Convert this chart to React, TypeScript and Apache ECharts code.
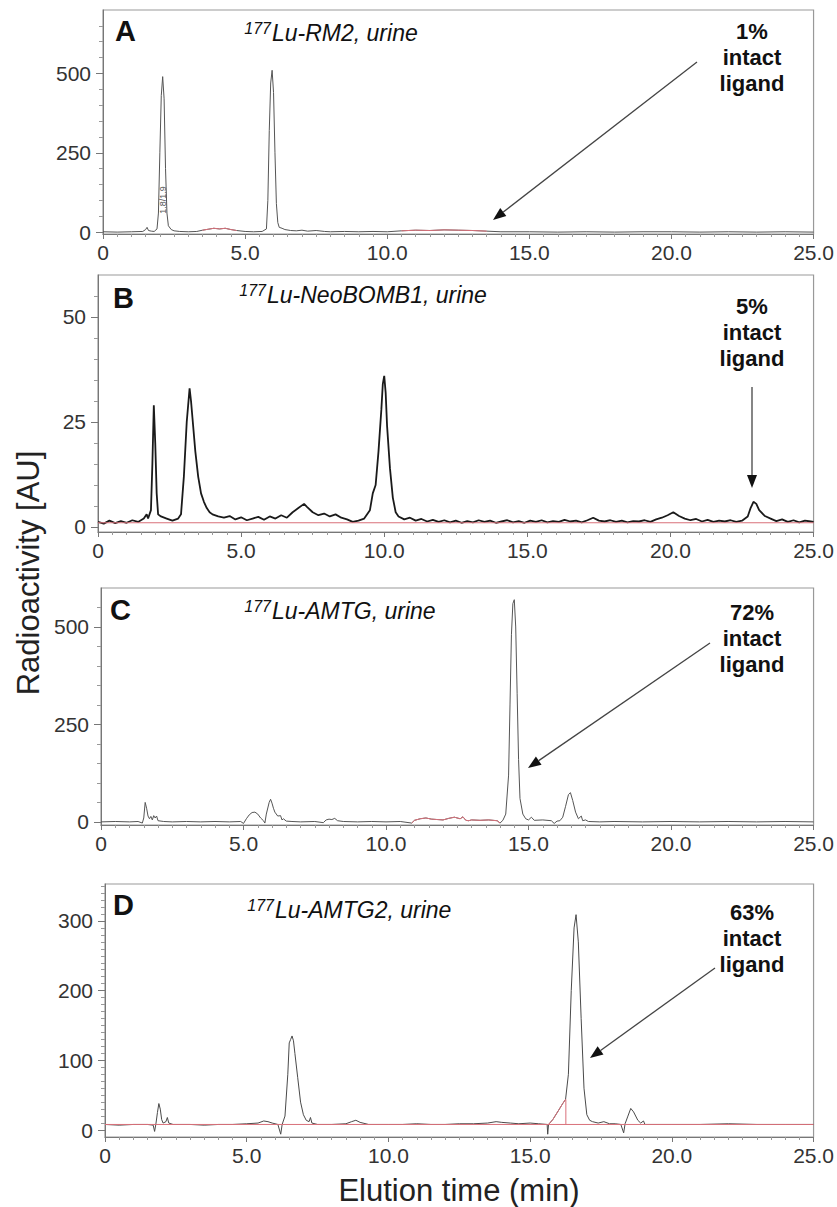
import React, { useEffect, useRef } from 'react';
import * as echarts from 'echarts';

// ---------- DATA ----------
const xMin = 0;
const xMax = 25;
const xInterval = 5;

const panelLetters = ['A', 'B', 'C', 'D'];
const panelTitles = ['Lu-RM2, urine', 'Lu-NeoBOMB1, urine', 'Lu-AMTG, urine', 'Lu-AMTG2, urine'];
const isotope = '177';
const intactPercent = ['1%', '5%', '72%', '63%'];

const aYLabels = [0, 250, 500];
const aYMinor = [50, 100, 150, 200, 300, 350, 400, 450, 550, 600, 650];
const bYLabels = [0, 25, 50];
const bYMinor = [5, 10, 15, 20, 30, 35, 40, 45, 55];
const cYLabels = [0, 250, 500];
const cYMinor = [50, 100, 150, 200, 300, 350, 400, 450, 550];
const dYLabels = [0, 100, 200, 300];
const dYMinor = [10, 20, 30, 40, 50, 60, 70, 80, 90, 110, 120, 130, 140, 150, 160, 170, 180, 190, 210, 220, 230, 240, 250, 260, 270, 280, 290, 310, 320, 330, 340, 350];

const aTrace: [number, number][] = [
  [0, 1], [0.5, 0], [1.0, 1], [1.4, 2], [1.5, 8], [1.55, 15], [1.6, 5], [1.7, 3], [1.8, 2], [1.9, 10],
  [1.95, 60], [2.0, 250], [2.05, 430], [2.1, 490], [2.15, 420], [2.2, 200], [2.25, 60], [2.3, 20], [2.4, 8],
  [2.5, 4], [2.7, 2], [3.0, 1], [3.3, 2], [3.5, 6], [3.7, 9], [3.9, 12], [4.1, 10], [4.3, 12], [4.5, 8],
  [4.7, 5], [5.0, 2], [5.3, 1], [5.6, 2], [5.75, 10], [5.8, 100], [5.85, 320], [5.9, 470], [5.95, 510],
  [6.0, 440], [6.05, 250], [6.1, 90], [6.15, 30], [6.2, 15], [6.3, 12], [6.4, 8], [6.6, 5], [6.8, 4],
  [7.0, 6], [7.2, 3], [7.5, 5], [7.8, 2], [8.0, 1], [8.5, 2], [9.0, 1], [9.5, 2], [10.0, 1], [10.5, 4],
  [11.0, 6], [11.5, 5], [12.0, 7], [12.5, 6], [13.0, 5], [13.5, 3], [14.0, 1], [15, 1], [16, 0], [17, 1],
  [18, 0], [19, 1], [20, 1], [21, 0], [22, 1], [23, 0], [24, 1], [25, 0],
];

const bTrace: [number, number][] = [
  [0, 1.2], [0.2, 0.8], [0.4, 1.5], [0.6, 0.9], [0.8, 1.4], [1.0, 1.0], [1.2, 1.6], [1.4, 1.2], [1.6, 2.0],
  [1.7, 3.0], [1.75, 2.0], [1.85, 4], [1.9, 15], [1.95, 29], [2.0, 20], [2.05, 8], [2.1, 3], [2.2, 2.5],
  [2.4, 2.0], [2.6, 1.5], [2.8, 2.0], [2.9, 3], [3.0, 12], [3.1, 25], [3.2, 33], [3.25, 30], [3.3, 26],
  [3.4, 18], [3.5, 12], [3.6, 8], [3.7, 6], [3.8, 4.5], [3.9, 3.5], [4.0, 3], [4.2, 2.5], [4.4, 2.2],
  [4.6, 2.6], [4.8, 1.8], [5.0, 2.3], [5.2, 1.6], [5.4, 2.0], [5.6, 2.4], [5.8, 1.7], [6.0, 2.5], [6.2, 2.0],
  [6.4, 2.8], [6.6, 2.2], [6.8, 3.5], [7.0, 4.5], [7.2, 5.5], [7.3, 4.8], [7.5, 3.5], [7.7, 2.8], [7.9, 3.2],
  [8.1, 2.5], [8.3, 3.0], [8.5, 2.2], [8.7, 1.8], [8.9, 1.2], [9.1, 1.5], [9.3, 2.0], [9.5, 4], [9.6, 8],
  [9.7, 10], [9.8, 18], [9.9, 28], [9.95, 34], [10.0, 36], [10.05, 32], [10.1, 24], [10.2, 14], [10.3, 7],
  [10.4, 3.5], [10.5, 2.5], [10.7, 1.8], [10.9, 2.2], [11.1, 1.5], [11.3, 1.9], [11.5, 1.3], [11.7, 1.7],
  [11.9, 1.2], [12.1, 1.6], [12.3, 1.1], [12.5, 1.5], [12.7, 1.0], [12.9, 1.4], [13.1, 1.1], [13.3, 1.6],
  [13.5, 1.2], [13.7, 1.5], [13.9, 1.0], [14.1, 1.3], [14.3, 1.6], [14.5, 1.1], [14.7, 1.4], [14.9, 1.0],
  [15.1, 1.5], [15.3, 1.2], [15.5, 1.6], [15.7, 1.1], [15.9, 1.4], [16.1, 1.2], [16.3, 1.7], [16.5, 1.3],
  [16.7, 1.5], [16.9, 1.1], [17.1, 1.6], [17.3, 2.2], [17.5, 1.5], [17.7, 1.3], [17.9, 1.6], [18.1, 1.2],
  [18.3, 1.5], [18.5, 1.1], [18.7, 1.4], [18.9, 1.3], [19.1, 1.6], [19.3, 1.2], [19.5, 1.8], [19.7, 2.2],
  [19.9, 2.8], [20.1, 3.5], [20.3, 2.6], [20.5, 2.0], [20.7, 1.6], [20.9, 1.9], [21.1, 1.3], [21.3, 1.7],
  [21.5, 1.2], [21.7, 1.5], [21.9, 1.3], [22.1, 1.6], [22.3, 1.2], [22.5, 1.5], [22.7, 2.5], [22.8, 4.5],
  [22.9, 6], [23.0, 5.5], [23.1, 4], [23.3, 2.6], [23.5, 2.0], [23.7, 1.4], [23.9, 1.8], [24.1, 1.2],
  [24.3, 1.6], [24.5, 1.1], [24.7, 1.5], [24.9, 1.3], [25, 1.2],
];

const cTrace: [number, number][] = [
  [0, 0], [0.5, 1], [1.0, 0], [1.3, 1], [1.45, -3], [1.5, 10], [1.55, 50], [1.6, 35], [1.65, 15], [1.7, 8],
  [1.75, 14], [1.8, 5], [1.85, 16], [1.9, 10], [1.95, 15], [2.0, 3], [2.2, 1], [2.5, 0], [3, 1], [3.5, 0],
  [4, 1], [4.5, 0], [4.9, 1], [5.0, -4], [5.1, 8], [5.2, 18], [5.3, 24], [5.4, 25], [5.5, 20], [5.6, 10],
  [5.7, 3], [5.75, -3], [5.8, 20], [5.9, 50], [5.95, 58], [6.0, 48], [6.05, 35], [6.1, 25], [6.2, 15],
  [6.3, 16], [6.35, 5], [6.4, 8], [6.5, 2], [6.7, 1], [7.0, 0], [7.5, 1], [7.8, -2], [7.9, 5], [8.0, 7],
  [8.1, 6], [8.2, 9], [8.3, 3], [8.5, 1], [9, 0], [9.5, 1], [10, 0], [10.5, 1], [10.9, -3], [11.0, 4],
  [11.2, 8], [11.4, 10], [11.6, 7], [11.8, 6], [12.0, 5], [12.2, 9], [12.4, 12], [12.6, 8], [12.7, 13],
  [12.8, 4], [12.9, 3], [13.0, 5], [13.3, 4], [13.6, 5], [13.9, 3], [14.0, -3], [14.1, 4], [14.2, 20],
  [14.3, 120], [14.35, 300], [14.4, 480], [14.45, 560], [14.5, 570], [14.55, 500], [14.6, 330], [14.65, 160],
  [14.7, 60], [14.8, 20], [14.9, 8], [15.0, 5], [15.1, 12], [15.2, 4], [15.5, 5], [15.8, 3], [15.9, -4],
  [16.0, 2], [16.1, 3], [16.2, 12], [16.3, 40], [16.4, 70], [16.47, 75], [16.55, 55], [16.65, 25], [16.75, 8],
  [16.85, 15], [16.9, 3], [17.0, 5], [17.1, 1], [17.5, 0], [18, 1], [19, 0], [20, 1], [21, 0], [22, 1],
  [23, 0], [24, 1], [25, 0],
];

const dTrace: [number, number][] = [
  [0, 8], [0.5, 7], [1.0, 8], [1.5, 8], [1.7, 7], [1.75, -2], [1.8, 10], [1.85, 25], [1.9, 38], [1.95, 30],
  [2.0, 15], [2.05, 10], [2.15, 12], [2.2, 18], [2.25, 10], [2.4, 8], [3, 8], [3.5, 7], [4, 8], [4.5, 8],
  [5.0, 9], [5.4, 10], [5.6, 13], [5.75, 12], [5.9, 10], [6.1, 8], [6.2, -6], [6.25, 8], [6.35, 20],
  [6.45, 80], [6.5, 125], [6.55, 130], [6.6, 135], [6.65, 128], [6.7, 110], [6.8, 75], [6.9, 40], [7.0, 22],
  [7.1, 14], [7.2, 12], [7.25, 18], [7.3, 10], [7.5, 8], [8, 8], [8.5, 9], [8.7, 12], [8.85, 14], [9.0, 11],
  [9.3, 8], [10, 8], [10.5, 8], [11, 9], [11.5, 8], [12, 8], [12.5, 9], [13, 9], [13.5, 10], [13.8, 12],
  [14.0, 11], [14.3, 10], [14.6, 9], [15, 10], [15.3, 9], [15.6, 8], [15.62, -6], [15.65, 8], [15.8, 15],
  [16.0, 28], [16.15, 38], [16.25, 44], [16.35, 80], [16.45, 200], [16.55, 290], [16.62, 309], [16.7, 270],
  [16.8, 160], [16.9, 60], [17.0, 22], [17.1, 14], [17.2, 12], [17.4, 10], [17.6, 12], [17.8, 9], [18.0, 9],
  [18.2, 8], [18.3, -4], [18.35, 9], [18.45, 20], [18.55, 31], [18.65, 26], [18.8, 14], [18.9, 10],
  [19.0, 13], [19.05, 8], [19.3, 8], [20, 8], [21, 8], [22, 9], [23, 8], [24, 8], [25, 8],
];

// integration baselines (red) per panel
const aRedRanges: [number, number][] = [[3.5, 4.7], [10.5, 13.5]];
const bBaseline: [number, number][] = [[0, 1], [25, 1]];
const cRedRanges: [number, number][] = [[10.9, 14.0]];
const dBaseline: [number, number][] = [[0, 8], [25, 8]];
const dRedRange: [number, number] = [15.65, 16.25];
const dRedMark: [number, number][] = [[16.26, 8], [16.26, 44]];

// ---------- LAYOUT ----------
const FONT = '"Liberation Sans", Arial, Helvetica, sans-serif';
const panels = [
  { left: 103, top: 10, height: 224, yMin: -6, yMax: 700, labels: aYLabels, minor: aYMinor, trace: aTrace, lw: 1, color: '#555' },
  { left: 98, top: 275, height: 257, yMin: -1.2, yMax: 60, labels: bYLabels, minor: bYMinor, trace: bTrace, lw: 1.8, color: '#1a1a1a' },
  { left: 101, top: 588, height: 237, yMin: -8, yMax: 600, labels: cYLabels, minor: cYMinor, trace: cTrace, lw: 1, color: '#555' },
  { left: 105, top: 884, height: 253, yMin: -10, yMax: 353, labels: dYLabels, minor: dYMinor, trace: dTrace, lw: 1, color: '#4a4a4a' },
];
const letterPos = [[115, 31], [113, 298], [110, 610], [113, 905]];
const titlePos = [[272, 33], [267, 295], [272, 611], [275, 910]];
const annPos = [[752, 57], [752, 332], [752, 638], [752, 938]];
const arrows = [
  [697, 62, 493, 220],
  [752, 387, 752, 488],
  [710, 643, 528, 768],
  [715, 968, 590, 1058],
];

function arrow(x1: number, y1: number, x2: number, y2: number) {
  const dx = x2 - x1, dy = y2 - y1;
  const L = Math.hypot(dx, dy);
  const ux = dx / L, uy = dy / L;
  const head = 13, w = 10;
  const bx = x2 - ux * head, by = y2 - uy * head;
  const px = -uy, py = ux;
  return [
    { type: 'line', shape: { x1, y1, x2: bx, y2: by }, style: { stroke: '#444', lineWidth: 1.3 } },
    {
      type: 'polygon',
      shape: { points: [[x2, y2], [bx + (px * w) / 2, by + (py * w) / 2], [bx - (px * w) / 2, by - (py * w) / 2]] },
      style: { fill: '#111' },
    },
  ];
}

function redSeries(gi: number, data: [number, number][]) {
  return {
    type: 'line', xAxisIndex: gi, yAxisIndex: gi * 2, data, symbol: 'none', silent: true,
    lineStyle: { color: '#d9707a', width: 1 }, z: 3,
  };
}

function buildOption() {
  const grid: any[] = [];
  const xAxis: any[] = [];
  const yAxis: any[] = [];
  const series: any[] = [];
  const graphic: any[] = [];

  panels.forEach((p, i) => {
    grid.push({ left: p.left, right: 19, top: p.top, height: p.height, show: true, borderColor: '#999', borderWidth: 1.2 });
    xAxis.push({
      type: 'value', gridIndex: i, min: xMin, max: xMax, interval: xInterval,
      axisLine: { onZero: false, lineStyle: { color: '#777', width: 1 } },
      axisTick: { length: 5, lineStyle: { color: '#777' } },
      minorTick: { show: true, splitNumber: 10, length: 3, lineStyle: { color: '#999' } },
      splitLine: { show: false },
      axisLabel: {
        formatter: (v: number) => (v === 0 ? '0' : v.toFixed(1)),
        fontSize: 21, color: '#333', fontFamily: FONT, margin: 8,
      },
    });
    yAxis.push({
      type: 'value', gridIndex: i, min: p.yMin, max: p.yMax, position: 'left',
      axisLine: { show: true, lineStyle: { color: '#777' } },
      axisTick: { show: true, customValues: p.labels, length: 7, lineStyle: { color: '#777' } },
      axisLabel: { customValues: p.labels, fontSize: 21, color: '#333', fontFamily: FONT, margin: 12 },
      splitLine: { show: false },
    });
    yAxis.push({
      type: 'value', gridIndex: i, min: p.yMin, max: p.yMax, position: 'left',
      axisLine: { show: false },
      axisTick: { show: true, customValues: p.minor, length: 4, lineStyle: { color: '#999' } },
      axisLabel: { show: false },
      splitLine: { show: false },
    });
    series.push({
      type: 'line', xAxisIndex: i, yAxisIndex: i * 2, data: p.trace, symbol: 'none', silent: true,
      lineStyle: { color: p.color, width: p.lw }, z: 2,
    });

    graphic.push({
      type: 'text', x: letterPos[i][0], y: letterPos[i][1],
      style: { text: panelLetters[i], fontSize: 29, fontWeight: 'bold', fontFamily: FONT, fill: '#111', textAlign: 'left', textVerticalAlign: 'middle' },
    });
    graphic.push({
      type: 'text', x: titlePos[i][0] - 1, y: titlePos[i][1] - 5,
      style: { text: isotope, fontSize: 16, fontStyle: 'italic', fontFamily: FONT, fill: '#111', textAlign: 'right', textVerticalAlign: 'middle' },
    });
    graphic.push({
      type: 'text', x: titlePos[i][0], y: titlePos[i][1],
      style: { text: panelTitles[i], fontSize: 23, fontStyle: 'italic', fontFamily: FONT, fill: '#111', textAlign: 'left', textVerticalAlign: 'middle' },
    });
    graphic.push({
      type: 'text', x: annPos[i][0], y: annPos[i][1],
      style: {
        text: intactPercent[i] + '\nintact\nligand', fontSize: 22, fontWeight: 'bold', fontFamily: FONT, fill: '#111',
        textAlign: 'center', textVerticalAlign: 'middle', lineHeight: 26,
      },
    });
    const a = arrows[i];
    graphic.push(...arrow(a[0], a[1], a[2], a[3]));
  });

  aRedRanges.forEach((r) => series.push(redSeries(0, aTrace.filter((d) => d[0] >= r[0] && d[0] <= r[1]))));
  series.push(redSeries(1, bBaseline));
  cRedRanges.forEach((r) => series.push(redSeries(2, cTrace.filter((d) => d[0] >= r[0] && d[0] <= r[1]))));
  series.push(redSeries(3, dBaseline));
  series.push(redSeries(3, dTrace.filter((d) => d[0] >= dRedRange[0] && d[0] <= dRedRange[1])));
  series.push(redSeries(3, dRedMark));

  graphic.push({
    type: 'text', x: 163, y: 200, rotation: Math.PI / 2,
    style: { text: '1.8/1.9', fontSize: 9, fontFamily: FONT, fill: '#555', textAlign: 'center', textVerticalAlign: 'middle' },
  });
  graphic.push({
    type: 'text', x: 28, y: 573, rotation: Math.PI / 2,
    style: { text: 'Radioactivity [AU]', fontSize: 31, fontFamily: FONT, fill: '#222', textAlign: 'center', textVerticalAlign: 'middle' },
  });
  graphic.push({
    type: 'text', x: 459, y: 1190,
    style: { text: 'Elution time (min)', fontSize: 31, fontFamily: FONT, fill: '#222', textAlign: 'center', textVerticalAlign: 'middle' },
  });

  return { animation: false, backgroundColor: '#fff', grid, xAxis, yAxis, series, graphic };
}

export default function App() {
  const ref = useRef<HTMLDivElement>(null);
  useEffect(() => {
    const chart = echarts.init(ref.current!, null, { renderer: 'svg' });
    chart.setOption(buildOption() as any);
    return () => chart.dispose();
  }, []);
  return <div ref={ref} style={{ position: 'absolute', left: 0, top: 0, width: 837, height: 1207, background: '#fff' }} />;
}
